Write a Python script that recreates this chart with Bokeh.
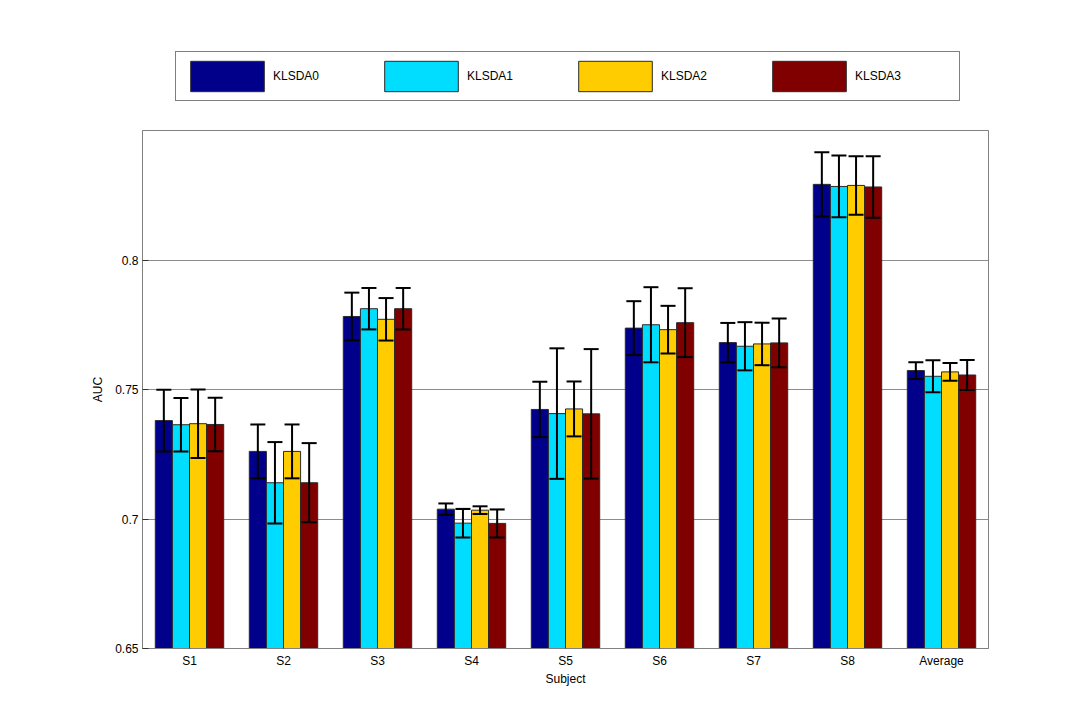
from bokeh.plotting import figure
from bokeh.layouts import column
from bokeh.models import (ColumnDataSource, FactorRange, Range1d, FixedTicker, Whisker,
                          TeeHead, Legend, LegendItem)
from bokeh.transform import dodge
from bokeh.embed import file_html
from bokeh.resources import INLINE

subjects = ["S1", "S2", "S3", "S4", "S5", "S6", "S7", "S8", "Average"]
series = ["KLSDA0", "KLSDA1", "KLSDA2", "KLSDA3"]
colors = ["#00008B", "#00DDFF", "#FFCC00", "#800000"]

klsda0 = [0.7380, 0.7261, 0.7782, 0.7038, 0.7423, 0.7737, 0.7681, 0.8292, 0.7573]
klsda1 = [0.7364, 0.7140, 0.7812, 0.6984, 0.7407, 0.7750, 0.7667, 0.8284, 0.7551]
klsda2 = [0.7368, 0.7261, 0.7771, 0.7034, 0.7425, 0.7731, 0.7676, 0.8288, 0.7568]
klsda3 = [0.7365, 0.7140, 0.7812, 0.6983, 0.7406, 0.7758, 0.7680, 0.8282, 0.7556]

err0 = [0.0119, 0.0104, 0.0092, 0.0022, 0.0107, 0.0104, 0.0076, 0.0124, 0.0032]
err1 = [0.0103, 0.0157, 0.0080, 0.0055, 0.0252, 0.0145, 0.0093, 0.0119, 0.0062]
err2 = [0.0132, 0.0104, 0.0082, 0.0015, 0.0106, 0.0092, 0.0082, 0.0113, 0.0034]
err3 = [0.0103, 0.0153, 0.0080, 0.0054, 0.0250, 0.0133, 0.0094, 0.0119, 0.0058]

y_ticks = [0.65, 0.7, 0.75, 0.8]

means = [klsda0, klsda1, klsda2, klsda3]
errs = [err0, err1, err2, err3]

FONT = "Liberation Sans"
BAR_EDGE = "#2a2a2a"

# ---- main chart ----
p = figure(width=1074, height=570, x_range=FactorRange(factors=subjects, range_padding=0),
           y_range=Range1d(0.65, 0.85), output_backend="svg", toolbar_location=None,
           min_border_left=142, min_border_right=86, min_border_top=0, min_border_bottom=52)

p.background_fill_color = "white"
p.border_fill_color = "white"
p.outline_line_color = "#808080"
p.outline_line_width = 1
p.xgrid.grid_line_color = None
p.ygrid.grid_line_color = "#8c8c8c"
p.ygrid.grid_line_width = 1

p.yaxis.ticker = FixedTicker(ticks=y_ticks)
p.yaxis.major_label_overrides = {0.65: "0.65", 0.7: "0.7", 0.75: "0.75", 0.8: "0.8"}
for ax in (p.xaxis, p.yaxis):
    ax.axis_line_color = "#808080"
    ax.major_tick_line_color = "#333333"
    ax.major_tick_in = 6
    ax.major_tick_out = 0
    ax.minor_tick_line_color = None
    ax.major_label_text_font = FONT
    ax.major_label_text_font_size = "12px"
    ax.major_label_text_color = "black"
    ax.axis_label_text_font = FONT
    ax.axis_label_text_font_size = "12px"
    ax.axis_label_text_font_style = "normal"
    ax.axis_label_text_color = "black"

p.xaxis.axis_label = "Subject"
p.yaxis.axis_label = "AUC"
p.xaxis.major_label_standoff = 5
p.xaxis.axis_label_standoff = 1
p.yaxis.major_label_standoff = 4
p.yaxis.axis_label_standoff = 7

bar_w = 0.182
offsets = [-1.5 * bar_w, -0.5 * bar_w, 0.5 * bar_w, 1.5 * bar_w]

for name, col, m, e, off in zip(series, colors, means, errs, offsets):
    src = ColumnDataSource(dict(subject=subjects, mean=m,
                                upper=[a + b for a, b in zip(m, e)],
                                lower=[a - b for a, b in zip(m, e)]))
    p.vbar(x=dodge("subject", off, range=p.x_range), top="mean", bottom=0.65,
           width=bar_w, source=src, fill_color=col, line_color=BAR_EDGE, line_width=1)
    w = Whisker(source=src, base=dodge("subject", off, range=p.x_range),
                upper="upper", lower="lower", line_color="black", line_width=2,
                level="overlay",
                upper_head=TeeHead(size=15, line_color="black", line_width=2),
                lower_head=TeeHead(size=15, line_color="black", line_width=2))
    p.add_layout(w)

# ---- legend strip (frame aligned with the main chart's frame) ----
lg = figure(width=1074, height=130, x_range=Range1d(0, 1), y_range=Range1d(0, 1),
            output_backend="svg", toolbar_location=None, x_axis_type=None, y_axis_type=None,
            min_border_left=142, min_border_right=86, min_border_top=0, min_border_bottom=0)
lg.outline_line_color = None
lg.grid.visible = False
lg.background_fill_color = "white"
lg.border_fill_color = "white"

items = []
for name, col in zip(series, colors):
    # zero-size placeholder glyph that only carries the legend swatch style
    r = lg.vbar(x=[0.5], top=[0], bottom=[0], width=0, fill_color=col,
                line_color=BAR_EDGE, line_width=1)
    items.append(LegendItem(label=name, renderers=[r]))

legend = Legend(items=items, orientation="horizontal", location=(33, 29),
                glyph_width=92, glyph_height=38, label_width=99, spacing=3,
                padding=5, label_standoff=0, margin=0,
                label_text_font=FONT, label_text_font_size="12px",
                label_text_color="black",
                border_line_color="black", border_line_width=1,
                background_fill_color="white", background_fill_alpha=1)
lg.add_layout(legend, "center")

layout = column(lg, p, spacing=0)
open("out.html", "w").write(file_html(layout, INLINE))
